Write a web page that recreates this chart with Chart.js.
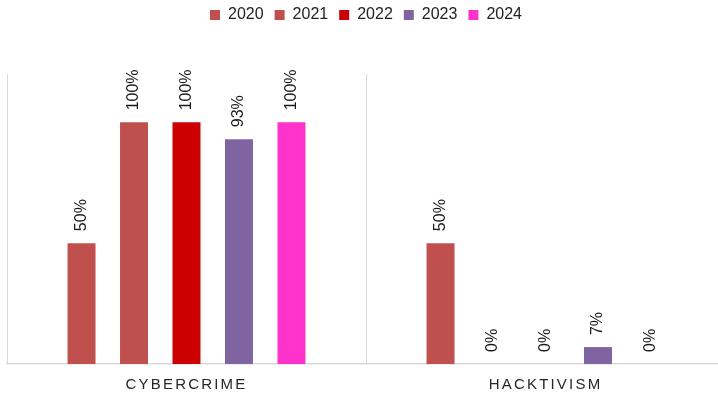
<!DOCTYPE html>
<html>
<head>
<meta charset="utf-8">
<script src="https://cdn.jsdelivr.net/npm/chart.js@4.4.1/dist/chart.umd.min.js"></script>
<style>
    html, body { margin: 0; padding: 0; background: #fff; overflow: hidden; }
    .canvas-container { width: 726px; height: 395px; }
</style>
</head>
<body>
<div class="canvas-container"><canvas id="threat-chart"></canvas></div>
<script>
const categories = ['CYBERCRIME', 'HACKTIVISM'];
const years = ['2020', '2021', '2022', '2023', '2024'];
const values2020 = [50, 50];
const values2021 = [100, 0];
const values2022 = [100, 0];
const values2023 = [93, 7];
const values2024 = [100, 0];
const colors = ['#C0504D', '#C0504D', '#CC0000', '#8064A2', '#FF33CC'];

const allValues = [values2020, values2021, values2022, values2023, values2024];

// room between legend and plot
const legendGap = {
    id: 'legendGap',
    beforeInit(chart) {
        const fit = chart.legend.fit;
        chart.legend.fit = function () {
            fit.bind(this)();
            this.height += 41;
        };
    }
};

// rotated percentage labels above bars, then letter spacing for category labels
const barLabels = {
    id: 'barLabels',
    afterDatasetsDraw(chart) {
        const ctx = chart.ctx;
        ctx.save();
        ctx.font = '16px "Liberation Sans", Arial, sans-serif';
        ctx.fillStyle = '#1a1a1a';
        ctx.textAlign = 'left';
        ctx.textBaseline = 'middle';
        chart.data.datasets.forEach((ds, i) => {
            chart.getDatasetMeta(i).data.forEach((bar, j) => {
                ctx.save();
                ctx.translate(bar.x, bar.y - 12);
                ctx.rotate(-Math.PI / 2);
                ctx.fillText(ds.data[j] + '%', 0, 0);
                ctx.restore();
            });
        });
        ctx.restore();
        ctx.letterSpacing = '2.2px';
    },
    afterDraw(chart) {
        chart.ctx.letterSpacing = '0px';
    }
};

const ctx = document.getElementById('threat-chart').getContext('2d');
new Chart(ctx, {
    type: 'bar',
    data: {
        labels: categories,
        datasets: years.map((y, i) => ({
            label: y,
            data: allValues[i],
            backgroundColor: colors[i],
            borderWidth: 0,
            categoryPercentage: 0.731,
            barPercentage: 0.533
        }))
    },
    options: {
        responsive: true,
        maintainAspectRatio: false,
        animation: false,
        layout: { padding: { left: 7, right: 1, top: -4, bottom: -11 } },
        plugins: {
            legend: {
                position: 'top',
                labels: {
                    boxWidth: 10,
                    boxHeight: 10,
                    padding: 11,
                    color: '#222',
                    font: { size: 16, family: '"Liberation Sans", Arial, sans-serif' }
                }
            },
            tooltip: { enabled: false }
        },
        scales: {
            y: {
                display: false,
                min: 0,
                max: 120
            },
            x: {
                grid: {
                    color: '#d9d9d9',
                    drawTicks: false,
                    offset: true
                },
                border: { color: '#d9d9d9', width: 1.5 },
                ticks: {
                    z: 1,
                    padding: 12,
                    color: '#262626',
                    font: { size: 15, family: '"Liberation Sans", Arial, sans-serif' }
                }
            }
        }
    },
    plugins: [legendGap, barLabels]
});
</script>
</body>
</html>
